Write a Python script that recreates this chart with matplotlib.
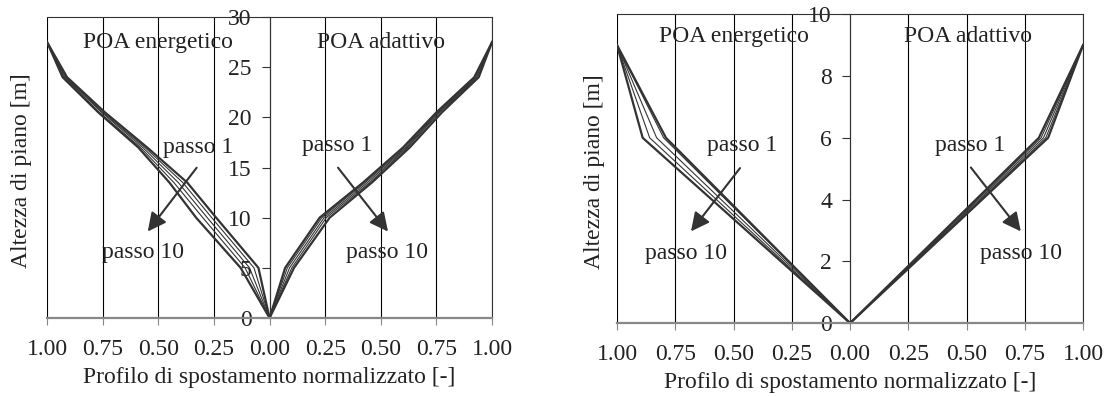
import matplotlib.pyplot as plt

plt.rcParams['font.family'] = ['Liberation Serif', 'DejaVu Serif']

# altezze dei piani [m]
h_left = [0, 5, 10, 13.5, 17, 20.5, 24, 27.5]
h_right = [0, 6, 9]

# profili normalizzati (passo 1, 3, 5, 7, 10)
energ_left = [
    [0, 0.05, 0.24, 0.37, 0.55, 0.74, 0.91, 1.0],
    [0, 0.07, 0.26, 0.39, 0.56, 0.75, 0.915, 1.0],
    [0, 0.09, 0.28, 0.41, 0.57, 0.755, 0.92, 1.0],
    [0, 0.11, 0.30, 0.43, 0.58, 0.765, 0.925, 1.0],
    [0, 0.13, 0.33, 0.45, 0.59, 0.77, 0.93, 1.0],
]
adatt_left = [
    [0, 0.07, 0.225, 0.42, 0.60, 0.75, 0.92, 1.0],
    [0, 0.08, 0.235, 0.43, 0.61, 0.755, 0.925, 1.0],
    [0, 0.09, 0.245, 0.44, 0.615, 0.76, 0.93, 1.0],
    [0, 0.10, 0.255, 0.45, 0.62, 0.765, 0.935, 1.0],
    [0, 0.11, 0.27, 0.46, 0.63, 0.775, 0.94, 1.0],
]
energ_right = [
    [0, 0.79, 1.0],
    [0, 0.80, 1.0],
    [0, 0.83, 1.0],
    [0, 0.86, 1.0],
    [0, 0.89, 1.0],
]
adatt_right = [
    [0, 0.81, 1.0],
    [0, 0.82, 1.0],
    [0, 0.83, 1.0],
    [0, 0.84, 1.0],
    [0, 0.85, 1.0],
]

xticks = [-1, -0.75, -0.5, -0.25, 0, 0.25, 0.5, 0.75, 1]
xlabels = ["1.00", "0.75", "0.50", "0.25", "0.00", "0.25", "0.50", "0.75", "1.00"]
yticks_left = [0, 5, 10, 15, 20, 25, 30]
yticks_right = [0, 2, 4, 6, 8, 10]

FS = 17
widths = [1.6, 0.8, 0.8, 0.8, 1.6]


def style(ax, ymax, yticks, ylab_x, xlab_y):
    ax.set_xlim(-1, 1)
    ax.set_ylim(0, ymax)
    ax.set_xticks(xticks)
    ax.set_xticklabels(xlabels)
    ax.set_yticks(yticks)
    ax.set_yticklabels([str(t) for t in yticks])
    for x in xticks:
        ax.axvline(x, color='black', lw=0.8, zorder=0)
    ax.spines['left'].set_position(('data', 0))
    ax.spines['left'].set_color('#333333')
    ax.spines['bottom'].set_color('#888888')
    ax.spines['bottom'].set_linewidth(1.6)
    ax.spines['top'].set_color('#333333')
    ax.spines['right'].set_color('#333333')
    ax.tick_params(axis='y', direction='out', length=6, pad=7, colors='#333333',
                   labelcolor='#222222', labelsize=FS)
    ax.tick_params(axis='x', direction='out', length=5, pad=10, colors='#888888',
                   labelcolor='#222222', labelsize=FS)
    ax.set_ylabel("Altezza di piano [m]", fontsize=FS, color='#222222')
    ax.yaxis.set_label_coords(ylab_x, 0.49)
    ax.set_xlabel("Profilo di spostamento normalizzato [-]", fontsize=FS, color='#222222')
    ax.xaxis.set_label_coords(0.5, xlab_y)


def arrow(ax, start, end):
    ax.annotate('', xy=end, xytext=start,
                arrowprops=dict(arrowstyle='-|>', color='#333333', lw=1.5, mutation_scale=28))


fig = plt.figure(figsize=(11.07, 3.96), dpi=100)
ax1 = fig.add_axes([0.0425, 0.197, 0.402, 0.760])
ax2 = fig.add_axes([0.5574, 0.184, 0.421, 0.780])

style(ax1, 30, yticks_left, -0.034, -0.163)
style(ax2, 10, yticks_right, -0.026, -0.158)

for prof, lw in zip(energ_left, widths):
    ax1.plot([-v for v in prof], h_left, color='#333333', lw=lw)
for prof, lw in zip(adatt_left, widths):
    ax1.plot(prof, h_left, color='#333333', lw=lw)
for prof, lw in zip(energ_right, widths):
    ax2.plot([-v for v in prof], h_right, color='#333333', lw=lw)
for prof, lw in zip(adatt_right, widths):
    ax2.plot(prof, h_right, color='#333333', lw=lw)

# testi pannello sinistro
ax1.text(-0.50, 27.5, "POA energetico", fontsize=FS, ha='center', va='center', color='#222222')
ax1.text(0.50, 27.5, "POA adattivo", fontsize=FS, ha='center', va='center', color='#222222')
ax1.text(-0.32, 17.0, "passo 1", fontsize=FS, ha='center', va='center', color='#222222')
ax1.text(-0.57, 6.5, "passo 10", fontsize=FS, ha='center', va='center', color='#222222')
ax1.text(0.305, 17.2, "passo 1", fontsize=FS, ha='center', va='center', color='#222222')
ax1.text(0.53, 6.5, "passo 10", fontsize=FS, ha='center', va='center', color='#222222')
arrow(ax1, (-0.32, 15.2), (-0.555, 8.4))
arrow(ax1, (0.30, 15.2), (0.54, 8.4))

# testi pannello destro
ax2.text(-0.50, 9.27, "POA energetico", fontsize=FS, ha='center', va='center', color='#222222')
ax2.text(0.506, 9.27, "POA adattivo", fontsize=FS, ha='center', va='center', color='#222222')
ax2.text(-0.465, 5.76, "passo 1", fontsize=FS, ha='center', va='center', color='#222222')
ax2.text(-0.705, 2.26, "passo 10", fontsize=FS, ha='center', va='center', color='#222222')
ax2.text(0.515, 5.76, "passo 1", fontsize=FS, ha='center', va='center', color='#222222')
ax2.text(0.733, 2.26, "passo 10", fontsize=FS, ha='center', va='center', color='#222222')
arrow(ax2, (-0.465, 5.09), (-0.69, 2.9))
arrow(ax2, (0.511, 5.11), (0.74, 2.9))

fig.savefig("out.png", dpi=100)
